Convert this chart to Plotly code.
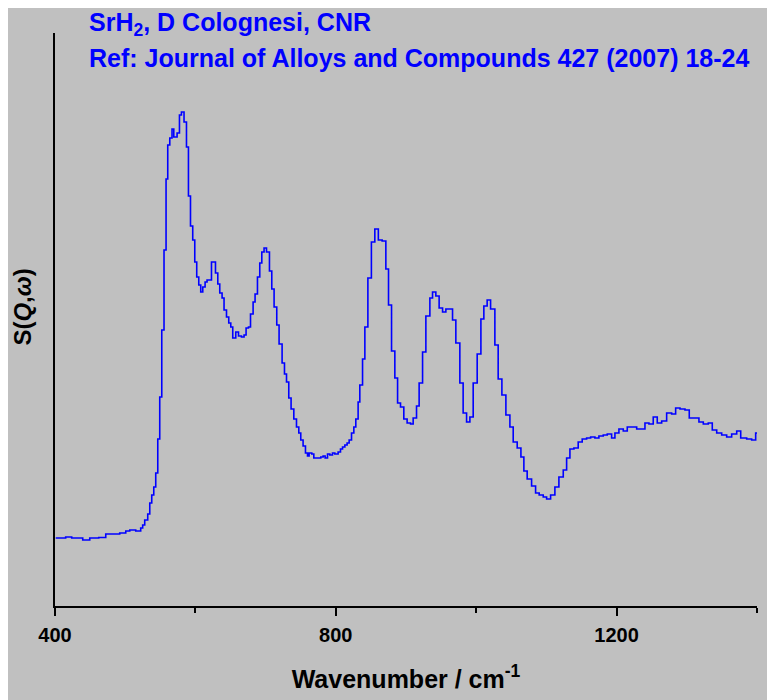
import plotly.graph_objects as go

# SrH2 INS spectrum
wavenumber = [
    401.0, 406.7, 415.2, 423.8, 439.5, 449.5, 462.3, 472.3, 482.2, 492.2,
    500.8, 506.5, 515.0, 522.1, 524.9, 527.8, 532.1, 535.0, 537.8, 540.7,
    543.5, 546.4, 549.2, 552.1, 555.3, 558.2, 560.6, 563.5, 566.7, 569.2,
    573.9, 577.3, 580.1, 583.8, 587.3, 590.1, 593.0, 596.2, 599.1, 601.9,
    604.8, 607.6, 610.5, 613.8, 616.6, 622.9, 628.6, 631.9, 634.7, 638.0,
    640.8, 644.3, 647.5, 650.4, 653.2, 657.5, 661.4, 665.6, 669.3, 672.2,
    675.6, 678.5, 682.2, 685.0, 688.4, 691.7, 694.6, 697.8, 701.3, 705.5,
    708.8, 712.1, 715.9, 719.2, 723.5, 726.9, 729.8, 733.0, 736.3, 740.2,
    744.0, 747.3, 750.1, 753.4, 756.8, 759.7, 762.0, 765.8, 768.7, 772.5,
    778.6, 781.9, 784.8, 788.2, 791.5, 795.3, 798.6, 803.3, 806.7, 809.6,
    812.9, 816.1, 819.0, 822.4, 825.7, 828.5, 831.8, 834.2, 838.1, 841.4,
    845.7, 850.7, 855.6, 860.6, 866.0, 871.3, 875.1, 879.4, 884.1, 888.0,
    892.2, 896.9, 901.6, 906.5, 910.2, 915.0, 918.7, 923.6, 928.3, 934.0,
    937.8, 942.5, 947.2, 952.1, 956.8, 961.5, 966.3, 971.0, 976.7, 981.4,
    986.3, 991.0, 995.7, 1001.4, 1006.7, 1010.9, 1015.6, 1020.5, 1026.6, 1031.3,
    1036.6, 1042.3, 1048.0, 1052.7, 1058.4, 1063.7, 1067.9, 1072.6, 1078.9, 1084.6,
    1089.7, 1095.5, 1100.3, 1106.0, 1112.1, 1117.8, 1124.0, 1128.8, 1133.5, 1139.2,
    1145.3, 1151.0, 1157.3, 1163.0, 1169.1, 1174.8, 1181.0, 1186.7, 1192.9, 1197.6,
    1203.3, 1209.5, 1215.2, 1221.4, 1228.6, 1234.6, 1240.4, 1246.1, 1252.2, 1257.9,
    1264.2, 1271.3, 1278.4, 1284.1, 1290.3, 1297.4, 1303.5, 1310.2, 1317.3, 1323.5,
    1330.6, 1336.3, 1342.6, 1349.7, 1356.8, 1363.9, 1371.1, 1376.8, 1385.3, 1392.4,
    1398.1, 1400.0,
]
intensity = [
    68, 68, 69, 68, 66, 68, 68.5, 72, 72, 73,
    75, 76, 75, 78, 81, 86, 92, 103, 111, 119,
    133, 167, 209, 276, 356, 427, 461, 468, 477, 469,
    473, 491, 494, 484, 459, 410, 380, 366, 344, 329,
    321, 314, 319, 324, 326, 344, 333, 322, 313, 308,
    296, 289, 283, 279, 268, 274, 270, 269, 271, 278,
    279, 292, 304, 312, 329, 343, 354, 358, 354, 335,
    317, 299, 281, 262, 243, 232, 224, 208, 197, 187,
    179, 173, 166, 160, 153, 150, 153, 152, 148, 148,
    149, 150, 148, 152, 151, 153, 152, 154, 157, 159,
    161, 163, 166, 173, 179, 187, 204, 221, 247, 279,
    328, 364, 377, 366, 365, 337, 301, 255, 228, 203,
    199, 187, 183, 182, 188, 200, 223, 254, 290, 308,
    314, 310, 298, 294, 297, 297, 286, 263, 223, 193,
    184, 189, 223, 252, 287, 300, 306, 297, 261, 227,
    211, 191, 179, 164, 158, 149, 135, 127, 120, 113,
    111, 109, 107, 111, 119, 129, 136, 148, 157, 158,
    164, 167, 168, 169, 168, 170, 171, 172, 168, 173,
    177, 175, 179, 179, 177, 177, 183, 182, 189, 183,
    185, 193, 192, 198, 197, 196, 188, 188, 184, 182,
    183, 176, 173, 171, 169, 172, 175, 168, 167, 166,
    173, 173,
]

x_ticks = [400, 800, 1200]
x_minor = [600, 1000, 1400]

bg = "#c0c0c0"
font_fam = "Liberation Sans, Arial, sans-serif"

fig = go.Figure()
fig.add_trace(go.Scatter(
    x=wavenumber,
    y=intensity,
    mode="lines",
    line=dict(color="#0000ff", width=1.6, shape="hv"),
    showlegend=False,
))

# page has an 8px body margin, margins below compensate for it
fig.update_layout(
    width=775,
    height=700,
    margin=dict(l=47, r=26, t=25, b=102),
    paper_bgcolor=bg,
    plot_bgcolor=bg,
    font=dict(family=font_fam, color="black"),
    xaxis=dict(
        range=[400, 1400],
        showline=True, linecolor="black", linewidth=2,
        showgrid=False, zeroline=False,
        tickmode="array", tickvals=x_ticks,
        ticks="outside", ticklen=8, tickwidth=2, tickcolor="black",
        ticklabelstandoff=2,
        tickfont=dict(size=20, weight="bold"),
        minor=dict(tickvals=x_minor, ticks="outside", ticklen=5,
                   tickwidth=2, tickcolor="black"),
        title=dict(text="Wavenumber / cm<sup>-1</sup>",
                   font=dict(size=25, weight="bold"), standoff=25),
    ),
    yaxis=dict(
        range=[0, 573],
        showline=True, linecolor="black", linewidth=2,
        showgrid=False, zeroline=False,
        showticklabels=False, ticks="",
    ),
)

# y label S(Q,w) with italic Q and omega
fig.add_annotation(
    text="<b>S(<i>Q</i>,<i>ω</i>)</b>",
    xref="paper", yref="paper", x=-0.046, y=0.522,
    xanchor="center", yanchor="middle",
    textangle=-90, showarrow=False,
    font=dict(size=24, color="black"),
)

fig.add_annotation(
    text="<b>SrH<sub>2</sub>, D Colognesi, CNR</b>",
    xref="paper", yref="paper", x=0.046, y=1.016,
    xanchor="left", yanchor="middle", showarrow=False,
    font=dict(size=25, color="#0000ff"),
)
fig.add_annotation(
    text="<b>Ref: Journal of Alloys and Compounds 427 (2007) 18-24</b>",
    xref="paper", yref="paper", x=0.046, y=0.956,
    xanchor="left", yanchor="middle", showarrow=False,
    font=dict(size=25, color="#0000ff"),
)

fig.write_html("out.html")
